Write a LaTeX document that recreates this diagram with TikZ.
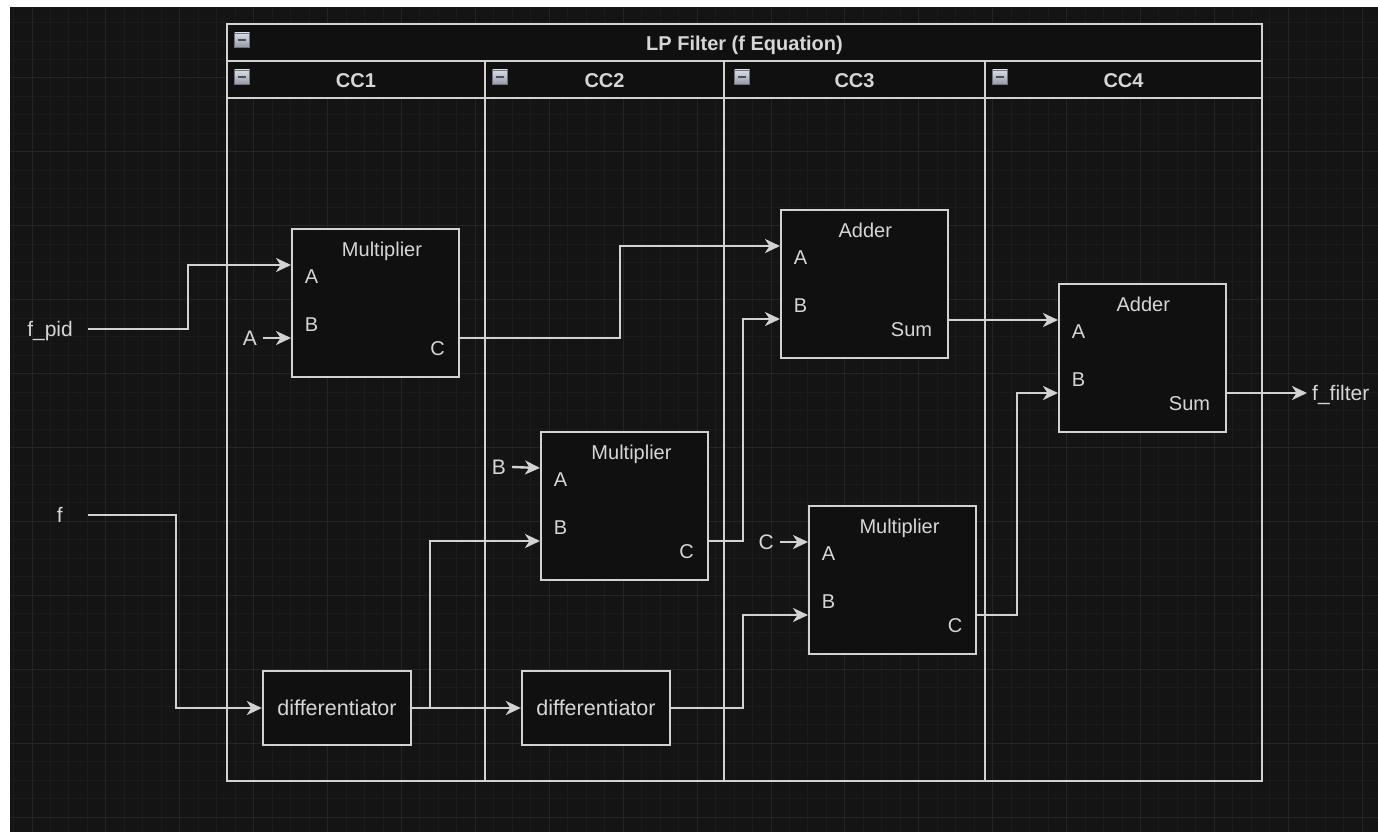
\documentclass[tikz,border=0pt]{standalone}
\usepackage{fontspec}
\setmainfont{Liberation Sans}
\usetikzlibrary{arrows.meta}
\definecolor{bgcol}{HTML}{141414}
\definecolor{gmin}{HTML}{1B1B1B}
\definecolor{gmaj}{HTML}{252525}
\definecolor{lncol}{HTML}{D2D2D2}
\definecolor{txcol}{HTML}{D6D6D6}
\definecolor{boxfill}{HTML}{101010}
\definecolor{icotop}{HTML}{D8DCE4}
\definecolor{icobot}{HTML}{969CA8}
\definecolor{icoline}{HTML}{4A4E58}
\definecolor{icoborder}{HTML}{6E727C}
\tikzset{
  blk/.style={draw=lncol, line width=2.4pt, fill=boxfill, minimum width=167pt, minimum height=148pt, inner sep=0pt, anchor=north west},
  dif/.style={draw=lncol, line width=2.4pt, fill=boxfill, minimum width=148pt, minimum height=74pt, inner sep=0pt, text=txcol, text height=15pt, text depth=0pt, font=\fontsize{21.5}{24}\selectfont},
  txt/.style={text=txcol, inner sep=0pt, text height=14.5pt, text depth=0pt, font=\fontsize{20}{24}\selectfont},
  ext/.style={text=txcol, inner ysep=0pt, text height=15pt, text depth=0pt, font=\fontsize{21}{24}\selectfont},
  hdr/.style={text=txcol, inner sep=0pt, text height=14.5pt, text depth=0pt, font=\bfseries\fontsize{20}{24}\selectfont},
  frame/.style={draw=lncol, line width=2.4pt},
  arr/.style={draw=lncol, line width=2.4pt, -{Stealth[length=15pt,width=14pt,inset=4.5pt]}},
  mico/.style={minimum width=15pt, minimum height=14pt, inner sep=0pt, draw=icoborder, line width=0.8pt,
    top color=icotop, bottom color=icobot,
    path picture={\draw[line width=2.2pt, draw=icoline] ([xshift=3.5pt]path picture bounding box.west) -- ([xshift=-3.5pt]path picture bounding box.east);}},
}
\newcommand\mkblock[7]{%
  \node[blk] (#1) at (#2,#3) {};
  \begin{scope}[shift={(#2,#3)}]
    \node[txt] (#1-t) at (#5,21.5) {#4};
    \node[txt] (#1-la) at (20.5,48) {A};
    \node[txt] (#1-lb) at (20.5,96) {B};
    \node[txt] (#1-lo) at (#7,120) {#6};
    \coordinate (#1-A) at (0,37);
    \coordinate (#1-B) at (0,110);
    \coordinate (#1-O) at (167,110);
  \end{scope}}
\begin{document}
\begin{tikzpicture}[x=1pt,y=-1pt]
\useasboundingbox (0,0) rectangle (1378,832);
\fill[white] (0,0) rectangle (1378,832);
\fill[bgcol] (10,7) rectangle (1378,832);
% grid
\foreach \i [evaluate=\i as \gx using 13.525+18.475*\i] in {0,...,73}
  \draw[gmin, line width=1pt] (\gx,7) -- (\gx,832);
\foreach \i [evaluate=\i as \gy using 22.575+18.475*\i] in {0,...,43}
  \draw[gmin, line width=1pt] (10,\gy) -- (1378,\gy);
\foreach \i [evaluate=\i as \gx using 32+73.9*\i] in {0,...,18}
  \draw[gmaj, line width=1pt] (\gx,7) -- (\gx,832);
\foreach \i [evaluate=\i as \gy using 78+73.9*\i] in {0,...,10}
  \draw[gmaj, line width=1pt] (10,\gy) -- (1378,\gy);

% container (swimlanes)
\fill[boxfill] (227,24) rectangle (1262,98);
\draw[frame] (227,24) rectangle (1262,781);
\draw[frame] (227,61) -- (1262,61);
\draw[frame] (227,98) -- (1262,98);
\draw[frame] (485,61) -- (485,781);
\draw[frame] (724,61) -- (724,781);
\draw[frame] (985,61) -- (985,781);
\node[hdr] (title) at (744.5,43) {LP Filter (f Equation)};
\node[hdr] (cc1) at (356,80) {CC1};
\node[hdr] (cc2) at (604.5,80) {CC2};
\node[hdr] (cc3) at (854.5,80) {CC3};
\node[hdr] (cc4) at (1123.5,80) {CC4};
\node[mico] (i0) at (242,40) {};
\node[mico] (i1) at (242,77) {};
\node[mico] (i2) at (500,77) {};
\node[mico] (i3) at (742,77) {};
\node[mico] (i4) at (1000,77) {};

% blocks
\mkblock{m1}{291}{228}{Multiplier}{91}{C}{146.5}
\mkblock{m2}{540}{431}{Multiplier}{91.5}{C}{146.5}
\mkblock{m3}{808}{505}{Multiplier}{91.5}{C}{147}
\mkblock{a1}{780}{209}{Adder}{85.3}{Sum}{131.5}
\mkblock{a2}{1058}{283}{Adder}{85.3}{Sum}{131.5}
\node[dif] (d1) at (337,708) {differentiator};
\node[dif] (d2) at (596,708) {differentiator};

% external labels
\node[ext, anchor=east, inner xsep=15pt] (fpid) at (88,329) {f\_pid};
\node[ext, anchor=east, inner xsep=25pt] (f) at (88,515) {f};
\node[ext, anchor=east, inner xsep=6pt] (ka) at (263,338) {A};
\node[ext, anchor=east, inner xsep=6pt] (kb) at (512,467) {B};
\node[ext, anchor=east, inner xsep=6pt] (kc) at (780,542) {C};
\node[ext, anchor=west, inner xsep=5pt] (ffilter) at (1307,393) {f\_filter};

% connectors
\draw[arr] (fpid.east) -- (188,329) |- (m1-A);
\draw[arr] (ka.east) -- (m1-B);
\draw[arr] (kb.east) -- (m2-A);
\draw[arr] (kc.east) -- (m3-A);
\draw[arr] (m1-O) -- (620,338) |- (a1-A);
\draw[arr] (m2-O) -- (743,541) |- (a1-B);
\draw[arr] (a1-O |- a2-A) -- (a2-A);
\draw[arr] (m3-O) -- (1017,615) |- (a2-B);
\draw[arr] (a2-O) -- (ffilter.west);
\draw[arr] (f.east) -- (176,515) |- (d1.west);
\draw[arr] (d1.east) -- (d2.west);
\draw[arr] (d1.east) -- (430,708) |- (m2-B);
\draw[arr] (d2.east) -- (743,708) |- (m3-B);
\end{tikzpicture}
\end{document}
